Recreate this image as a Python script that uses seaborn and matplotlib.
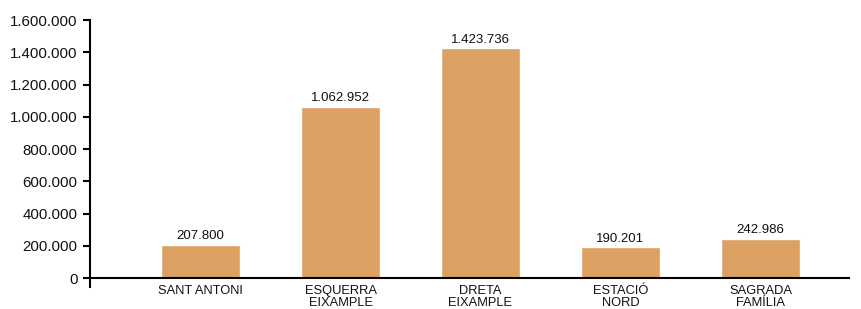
import matplotlib
matplotlib.use("Agg")
import matplotlib.pyplot as plt
import seaborn as sns
import pandas as pd

categories = ["SANT ANTONI", "ESQUERRA\nEIXAMPLE", "DRETA\nEIXAMPLE", "ESTACIÓ\nNORD", "SAGRADA\nFAMÍLIA"]
values = [207800, 1062952, 1423736, 190201, 242986]
value_labels = ["207.800", "1.062.952", "1.423.736", "190.201", "242.986"]
yticks = [0, 200000, 400000, 600000, 800000, 1000000, 1200000, 1400000, 1600000]
ytick_labels = ["0", "200.000", "400.000", "600.000", "800.000", "1.000.000", "1.200.000", "1.400.000", "1.600.000"]

sns.set_style("white")
plt.rcParams['font.family'] = ['Liberation Sans', 'DejaVu Sans']

df = pd.DataFrame({"cat": categories, "val": values})

fig = plt.figure(figsize=(8.62, 3.09), dpi=100)
ax = fig.add_axes([90/862, 1-287/309, (850-90)/862, (287-20)/309])

sns.barplot(data=df, x="cat", y="val", color="#DBA062", saturation=1, width=0.565, ax=ax)

ax.bar_label(ax.containers[0], labels=value_labels, padding=2, fontsize=9.5, color="#111111")

ax.set_xlim(-0.79, 4.64)
ax.set_ylim(-55000, 1600000)
ax.set_yticks(yticks)
ax.set_yticklabels(ytick_labels, fontsize=10.8, color="#111111")
ax.set_xlabel("")
ax.set_ylabel("")
ax.tick_params(axis="y", left=True, length=5, width=1.5, pad=4, color="black")
ax.tick_params(axis="x", bottom=False, length=0, pad=-1.5, labelsize=9.3, labelcolor="#111111")
for lbl in ax.get_xticklabels():
    lbl.set_linespacing(1.05)

for s in ["top", "right", "bottom"]:
    ax.spines[s].set_visible(False)
ax.spines["left"].set_linewidth(1.5)
ax.spines["left"].set_color("black")
ax.axhline(0, color="black", linewidth=1.5, zorder=5)

fig.savefig("out.png", dpi=100)
